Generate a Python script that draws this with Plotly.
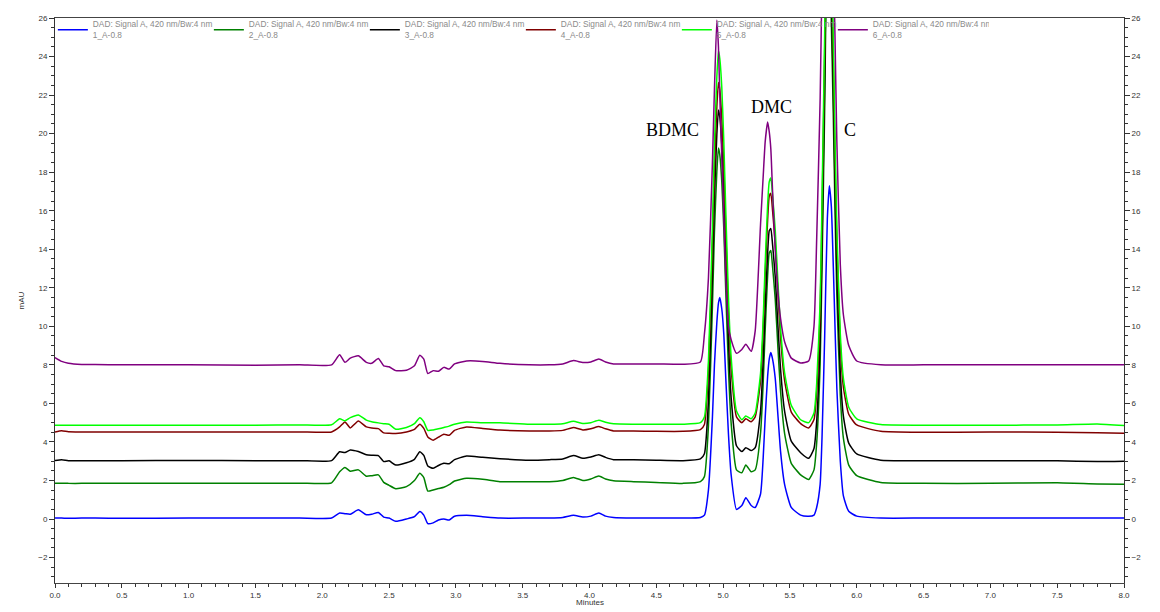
import plotly.graph_objects as go

# ---------------- data ----------------
time_early = [0.0, 0.05, 0.1, 0.2, 0.3, 0.5, 1.0, 1.5, 1.83, 2.07, 2.13, 2.17, 2.21, 2.27, 2.33, 2.37,
              2.42, 2.46, 2.50, 2.55, 2.63, 2.69, 2.73, 2.76, 2.79, 2.83, 2.87, 2.91, 2.95, 2.99, 3.08,
              3.20, 3.33, 3.55, 3.70, 3.80, 3.88, 3.95, 4.01, 4.07, 4.12, 4.18, 4.33, 4.50]
time_peak = [4.70, 4.83, 4.86, 4.89, 4.92, 4.935, 4.953, 4.965, 4.975, 4.99,
             5.005, 5.02, 5.04, 5.06, 5.10, 5.14, 5.17, 5.21, 5.24, 5.28,
             5.30, 5.315, 5.333, 5.345, 5.357, 5.37, 5.39, 5.41, 5.43, 5.46,
             5.51, 5.58, 5.64, 5.68, 5.70, 5.726, 5.74, 5.76, 5.78, 5.795,
             5.81, 5.825, 5.838, 5.851, 5.877, 5.90, 5.94, 6.00, 6.18]
time_tail = [6.5, 7.0, 7.5, 7.8, 8.0]

s1_early = [0.05, 0.05, 0.04, 0.05, 0.05, 0.04, 0.05, 0.05, 0.05, 0.05, 0.31, 0.28, 0.25, 0.48, 0.22, 0.25,
            0.34, 0.1, 0.05, -0.12, 0.0, 0.12, 0.39, 0.2, -0.24, -0.2, -0.05, 0.0, -0.05, 0.14, 0.19,
            0.12, 0.05, 0.05, 0.05, 0.08, 0.19, 0.1, 0.15, 0.31, 0.15, 0.08, 0.05, 0.05]
s1_peak = [0.05, 0.08, 0.2, 1.5, 5.3, 8.0, 10.2, 11.2, 11.5, 10.9,
           9.6, 7.3, 4.4, 2.3, 0.5, 0.7, 1.1, 0.7, 0.6, 1.3,
           3.2, 5.3, 7.4, 8.3, 8.64, 8.3, 7.3, 5.4, 3.5, 1.8,
           0.6, 0.2, 0.14, 0.2, 0.6, 1.8, 4.2, 9.5, 15.6, 17.3,
           16.2, 13.0, 9.8, 6.8, 3.0, 1.2, 0.4, 0.15, 0.05]
s1_tail = [0.05, 0.05, 0.05, 0.05, 0.05]

s2_early = [1.86, 1.86, 1.85, 1.85, 1.85, 1.86, 1.86, 1.85, 1.86, 1.88, 2.45, 2.68, 2.48, 2.55, 2.22, 2.25,
            2.29, 1.9, 1.75, 1.57, 1.68, 2.0, 2.37, 2.15, 1.45, 1.51, 1.58, 1.65, 1.78, 1.97, 2.11,
            2.06, 1.94, 1.94, 1.94, 2.0, 2.16, 2.0, 2.08, 2.23, 2.08, 1.99, 1.94, 1.9]
s2_peak = [1.85, 1.94, 2.2, 4.81, 11.07, 14.9, 18.03, 19.25, 18.9, 17.5,
           15.07, 11.77, 7.77, 4.98, 2.55, 2.4, 2.8, 2.45, 2.55, 4.45,
           7.09, 9.85, 12.61, 13.81, 13.93, 13.09, 11.41, 8.89, 6.61, 4.45,
           2.89, 2.29, 2.05, 2.55, 3.93, 8.05, 13.0, 21.25, 28.68, 28.95,
           25.65, 20.7, 15.75, 11.6, 6.4, 4.2, 2.8, 2.25, 1.9]
s2_tail = [1.85, 1.85, 1.88, 1.82, 1.8]

s3_early = [3.03, 3.08, 3.03, 3.03, 3.03, 3.03, 3.04, 3.03, 3.03, 3.03, 3.49, 3.45, 3.58, 3.5, 3.34, 3.31,
            3.29, 2.98, 3.02, 2.8, 2.92, 3.1, 3.49, 3.3, 2.75, 2.63, 2.78, 2.89, 2.87, 3.08, 3.27,
            3.2, 3.13, 3.05, 3.08, 3.12, 3.29, 3.15, 3.22, 3.34, 3.2, 3.08, 3.08, 3.05]
s3_peak = [3.03, 3.12, 3.39, 6.12, 12.68, 16.68, 19.96, 21.23, 20.87, 19.41,
           16.86, 13.4, 9.2, 6.3, 3.8, 3.5, 3.7, 3.55, 3.7, 5.6,
           8.24, 11.0, 13.76, 14.96, 15.08, 14.24, 12.56, 10.04, 7.76, 5.6,
           4.04, 3.44, 3.15, 3.66, 5.06, 9.26, 14.3, 22.7, 30.26, 30.54,
           27.18, 22.14, 17.1, 12.9, 7.58, 5.34, 3.94, 3.38, 3.05]
s3_tail = [3.03, 3.03, 3.02, 2.98, 3.0]

s4_early = [4.52, 4.58, 4.53, 4.52, 4.52, 4.52, 4.52, 4.52, 4.52, 4.52, 4.78, 5.04, 4.73, 5.09, 4.78, 4.72,
            4.69, 4.47, 4.45, 4.44, 4.52, 4.65, 4.92, 4.7, 4.26, 4.09, 4.25, 4.4, 4.35, 4.6, 4.78,
            4.7, 4.62, 4.57, 4.57, 4.6, 4.75, 4.62, 4.68, 4.8, 4.68, 4.57, 4.57, 4.55]
s4_peak = [4.55, 4.64, 4.91, 7.63, 14.14, 18.1, 21.4, 22.65, 22.3, 20.8,
           18.3, 14.9, 10.7, 7.8, 5.3, 5.0, 5.2, 5.05, 5.3, 7.16,
           9.87, 12.7, 15.5, 16.75, 16.9, 16.0, 14.3, 11.7, 9.4, 7.2,
           5.55, 4.95, 4.72, 5.16, 6.56, 10.76, 15.8, 24.2, 31.76, 32.0,
           28.7, 23.6, 18.6, 14.4, 9.08, 6.84, 5.44, 4.88, 4.55]
s4_tail = [4.5, 4.52, 4.5, 4.48, 4.45]

s5_early = [4.87, 4.87, 4.87, 4.87, 4.87, 4.87, 4.87, 4.87, 4.88, 4.89, 5.2, 5.1, 5.26, 5.4, 5.13, 5.05,
            4.99, 4.95, 4.92, 4.66, 4.75, 4.95, 5.26, 5.05, 4.6, 4.62, 4.68, 4.75, 4.82, 4.92, 5.04,
            5.0, 4.99, 4.92, 4.92, 4.95, 5.07, 4.96, 5.0, 5.13, 5.02, 4.94, 4.92, 4.92]
s5_peak = [4.92, 5.0, 5.29, 8.2, 15.2, 19.45, 22.94, 24.3, 23.9, 22.4,
           19.6, 15.96, 11.5, 8.4, 5.6, 5.15, 5.35, 5.2, 5.5, 7.56,
           10.4, 13.3, 16.3, 17.5, 17.7, 16.8, 15.0, 12.3, 9.9, 7.6,
           5.9, 5.15, 5.0, 5.5, 7.0, 11.3, 16.5, 25.2, 33.1, 33.4,
           29.9, 24.7, 19.45, 15.1, 9.6, 7.3, 5.8, 5.2, 4.9]
s5_tail = [4.87, 4.87, 4.88, 4.93, 4.85]

s6_early = [8.38, 8.18, 8.08, 8.02, 8.02, 8.0, 8.0, 7.98, 8.0, 8.0, 8.52, 8.13, 8.35, 8.47, 8.13, 8.08,
            8.33, 7.95, 7.9, 7.7, 7.72, 7.95, 8.5, 8.3, 7.55, 7.7, 7.67, 7.87, 7.78, 8.05, 8.2,
            8.18, 8.08, 8.0, 8.0, 8.05, 8.22, 8.12, 8.15, 8.3, 8.15, 8.05, 8.05, 8.05]
s6_peak = [8.03, 8.15, 9.6, 12.5, 18.5, 22.3, 25.9, 24.5, 22.0, 18.8,
           15.7, 12.5, 10.0, 9.3, 8.6, 8.8, 9.07, 8.7, 9.76, 15.3,
           17.8, 19.6, 20.6, 20.1, 19.2, 17.0, 14.0, 11.8, 10.4, 9.2,
           8.35, 8.1, 8.2, 10.0, 14.5, 21.8, 28.0, 36.0, 40.0, 38.0,
           34.0, 29.5, 24.7, 19.6, 13.2, 10.6, 9.0, 8.2, 8.0]
s6_tail = [8.0, 8.0, 8.0, 8.0, 8.0]

series_names = ["DAD: Signal A, 420 nm/Bw:4 nm<br>1_A-0.8",
                "DAD: Signal A, 420 nm/Bw:4 nm<br>2_A-0.8",
                "DAD: Signal A, 420 nm/Bw:4 nm<br>3_A-0.8",
                "DAD: Signal A, 420 nm/Bw:4 nm<br>4_A-0.8",
                "DAD: Signal A, 420 nm/Bw:4 nm<br>5_A-0.8",
                "DAD: Signal A, 420 nm/Bw:4 nm<br>6_A-0.8"]
series_colors = ["#0000ff", "#008000", "#000000", "#800000", "#00ff00", "#800080"]

peak_labels = ["BDMC", "DMC", "C"]
peak_label_t = [4.62, 5.36, 5.95]
peak_label_v = [20.2, 21.4, 20.2]

x_tick_vals = [0.0, 0.5, 1.0, 1.5, 2.0, 2.5, 3.0, 3.5, 4.0, 4.5, 5.0, 5.5, 6.0, 6.5, 7.0, 7.5, 8.0]
y_tick_vals = [-2, 0, 2, 4, 6, 8, 10, 12, 14, 16, 18, 20, 22, 24, 26]

# ---------------- figure ----------------
time_all = time_early + time_peak + time_tail
series_vals = [
    s1_early + s1_peak + s1_tail,
    s2_early + s2_peak + s2_tail,
    s3_early + s3_peak + s3_tail,
    s4_early + s4_peak + s4_tail,
    s5_early + s5_peak + s5_tail,
    s6_early + s6_peak + s6_tail,
]

fig = go.Figure()
for name, col, vals in zip(series_names, series_colors, series_vals):
    fig.add_trace(go.Scatter(x=time_all, y=vals, mode="lines", name=name,
                             line=dict(color=col, width=1.5, shape="spline", smoothing=0.5)))

# empty trace to hold the right-hand axis
fig.add_trace(go.Scatter(x=[None], y=[None], yaxis="y2", showlegend=False, hoverinfo="skip"))

for lab, t, v in zip(peak_labels, peak_label_t, peak_label_v):
    fig.add_annotation(x=t, y=v, text=lab, showarrow=False,
                       font=dict(family="Liberation Serif", size=18, color="#000000"))

fig.add_annotation(xref="paper", yref="paper", x=-0.037, y=0.5, text="mAU", textangle=-90,
                   showarrow=False, font=dict(family="Liberation Sans", size=8, color="#333333"))
fig.add_annotation(xref="paper", yref="paper", x=0.5, y=-0.045, yanchor="bottom", text="Minutes",
                   showarrow=False, borderpad=0, font=dict(family="Liberation Sans", size=8, color="#333333"))

tickfont = dict(family="Liberation Sans", size=8, color="#333333")
yrange = [-3.32, 26]

fig.update_layout(
    width=1160, height=612,
    margin=dict(l=55, r=36, t=18, b=25),
    paper_bgcolor="white", plot_bgcolor="white",
    showlegend=True,
    legend=dict(orientation="h", x=-0.002, xanchor="left", y=1.01, yanchor="top",
                entrywidth=111, entrywidthmode="pixels", itemwidth=30,
                bgcolor="rgba(0,0,0,0)", font=dict(family="Liberation Sans", size=8.3, color="#8a8a8a"),
                tracegroupgap=0),
    xaxis=dict(range=[0, 8], tickvals=x_tick_vals, tickformat=".1f", showgrid=False, zeroline=False,
               showline=True, linecolor="#444444", linewidth=1, mirror=True,
               ticks="outside", ticklen=4, tickcolor="#333333", tickfont=tickfont,
               minor=dict(dtick=0.1, ticks="outside", ticklen=3, tickcolor="#333333")),
    yaxis=dict(range=yrange, tickvals=y_tick_vals, showgrid=False, zeroline=False,
               showline=True, linecolor="#333333", linewidth=1,
               ticks="outside", ticklen=5, tickcolor="#333333", tickfont=tickfont,
               minor=dict(dtick=0.5, ticks="outside", ticklen=3, tickcolor="#333333")),
    yaxis2=dict(range=yrange, tickvals=y_tick_vals, overlaying="y", side="right", showgrid=False,
                zeroline=False, showline=True, linecolor="#333333", linewidth=1,
                ticks="outside", ticklen=5, tickcolor="#333333", tickfont=tickfont,
                minor=dict(dtick=0.5, ticks="outside", ticklen=3, tickcolor="#333333")),
)

fig.write_html("out.html", config={"displayModeBar": False},
               post_script="document.body.style.margin='0px';")
